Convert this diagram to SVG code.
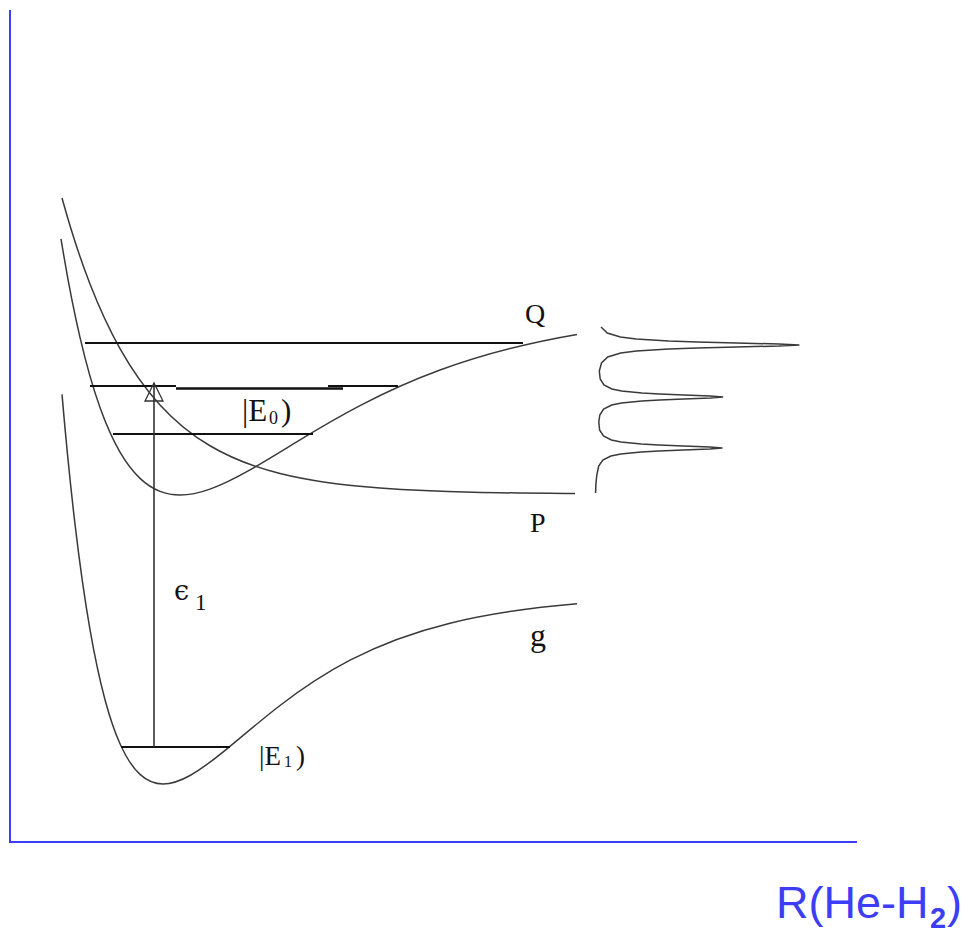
<svg xmlns="http://www.w3.org/2000/svg" width="973" height="932" viewBox="0 0 973 932">
<style>
.axis{stroke:#3d3df5;stroke-width:2;fill:none}
.curve{stroke:#3a3a3a;stroke-width:1.5;fill:none}
.level{stroke:#111;stroke-width:2;fill:none}
.lbl{font-family:"Liberation Serif","Times New Roman",serif;fill:#111}
.blue{font-family:"Liberation Sans",Arial,sans-serif;fill:#3d3df5}
</style>
<rect width="973" height="932" fill="#fff"/>
<g id="axes">
<line class="axis" x1="10" y1="10" x2="10" y2="843"/>
<line class="axis" x1="9" y1="842" x2="857" y2="842"/>
</g>
<g id="curve-P">
<path class="curve" d="M62,198 C71.33,231.85 80.67,259.98 90,284 C100,309.74 110,330.78 120,348.6 C133.33,372.36 146.67,390.34 160,404.9 C176.67,423.1 193.33,435.9 210,445.75 C233.33,459.54 256.67,467.65 280,473.5 C313.33,481.86 346.67,485.54 380,488 C445,492.79 510,493.01 575,493.45"/>
</g>
<g id="curve-Q">
<path class="curve" d="M61,238.8 C67.33,277.96 73.67,310.26 80,337.4 C86.67,365.97 93.33,388.91 100,407.6 C106.67,426.29 113.33,440.72 120,452.2 C126.67,463.68 133.33,472.13 140,478.4 C146.67,484.67 153.33,488.83 160,491.4 C166.67,493.97 173.33,495 180,495 C190,495 200,492.66 210,489.1 C223.33,484.35 236.67,477.46 250,469.9 C266.67,460.45 283.33,449.97 300,439.85 C320,427.71 340,416.06 360,405.6 C386.67,391.65 413.33,379.81 440,370 C485.67,353.2 531.33,342.21 577,334.4"/>
</g>
<g id="curve-g">
<path class="curve" d="M62,394.4 C66.33,444.87 70.67,487.44 75,524.2 C80,566.62 85,601.05 90,629.7 C95,658.35 100,681.15 105,699.7 C110,718.25 115,732.57 120,743.8 C126.67,758.77 133.33,768.28 140,774.4 C147.67,781.44 155.33,784 163,784 C172,784 181,780.52 190,775.5 C203.33,768.06 216.67,757.31 230,746.3 C246.67,732.53 263.33,718.3 280,705.5 C303.33,687.58 326.67,672.35 350,660.2 C383.33,642.85 416.67,631.4 450,623.2 C492.33,612.79 534.67,607.41 577,603.8"/>
</g>
<g id="levels">
<line class="level" x1="85" y1="343" x2="523" y2="343"/>
<line class="level" x1="90" y1="386" x2="176" y2="386"/>
<line class="level" x1="176" y1="388.5" x2="343" y2="388.5" style="stroke-width:2.5"/>
<line class="level" x1="328" y1="386" x2="398" y2="386"/>
<line class="level" x1="113" y1="434" x2="313" y2="434"/>
<line class="level" x1="121" y1="747" x2="230" y2="747"/>
</g>
<g id="connectors">
<line x1="154" y1="383" x2="154" y2="747" stroke="#333" stroke-width="1.6"/>
<polygon points="154,383 145,401 163,401" fill="none" stroke="#333" stroke-width="1.3"/>
</g>
<g id="spectrum">
<polyline class="curve" points="601,327 607.3,333 620.4,337 636.1,339 668.7,341 697.3,342 736.5,343 778.9,344 799.4,345 779,346 736.6,347 697.4,348 668.9,349 636.3,351 620.7,353 607.7,357 601.5,363 599.3,371 600.2,379 603.9,385 611.9,389 621.6,391 641.9,393 659.6,394 684,395 710.4,396 723.1,397 710.4,398 684,399 659.6,400 641.8,401 621.5,403 611.7,405 603.6,409 599.8,415 598.8,422 599.6,430 603.4,436 611.4,440 621,442 641.2,444 659,445 683.4,446 709.8,447 722.4,448 709.7,449 683.3,450 658.9,451 641.1,452 620.8,454 610.9,456 602.8,460 598.7,466 596.8,475 595.9,484 595.6,493"/>
</g>
<g id="labels">
<text class="lbl" x="525" y="323" font-size="28">Q</text>
<text class="lbl" x="530" y="532" font-size="28">P</text>
<text class="lbl" x="530" y="646" font-size="32">g</text>
<text class="lbl" font-size="31" y="421"><tspan x="242">|E</tspan><tspan x="269" font-size="18" dy="3">0</tspan><tspan x="281" dy="-3">)</tspan></text>
<text class="lbl" font-size="27" y="765"><tspan x="259">|E</tspan><tspan x="284" font-size="16" dy="2">1</tspan><tspan x="296" dy="-2">)</tspan></text>
<text x="174" y="600" font-size="27" font-family="'DejaVu Serif',serif" fill="#111">ϵ</text>
<text class="lbl" x="195" y="610" font-size="23">1</text>
<g id="axis-label">
<text class="blue" x="776" y="918" font-size="45">R(He-H</text>
<text class="blue" x="930" y="928" font-size="29" font-weight="bold">2</text>
<text class="blue" x="947" y="918" font-size="45">)</text>
</g>
</g>
</svg>
